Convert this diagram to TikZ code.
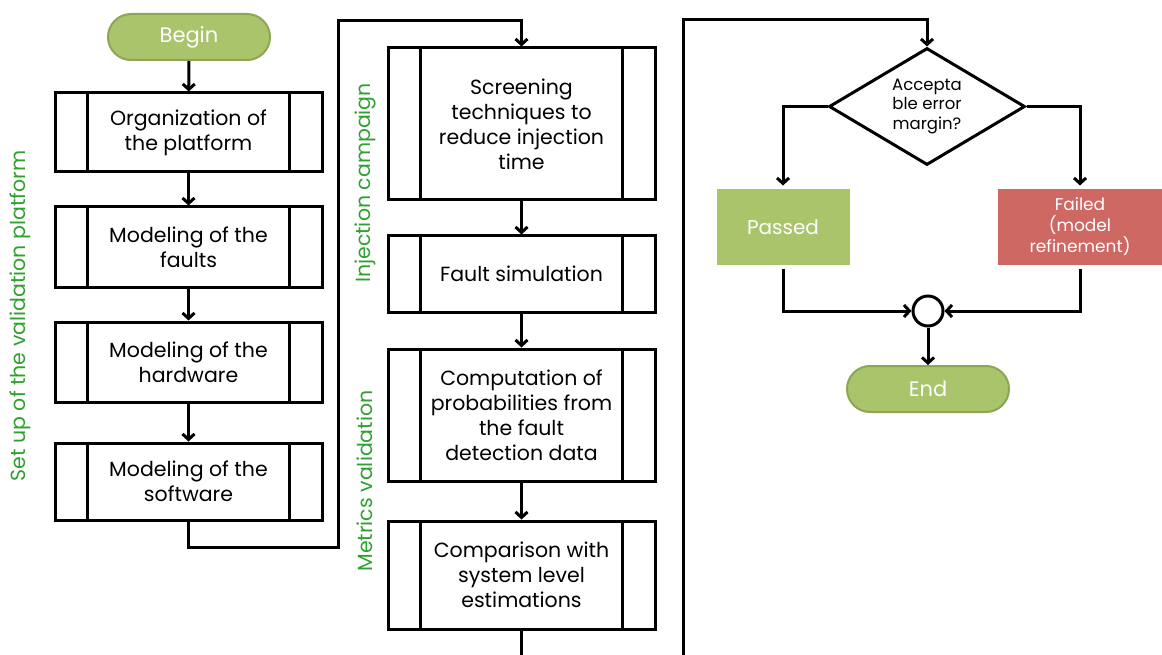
\documentclass[tikz,border=0pt]{standalone}
\usepackage{fontspec}
\setmainfont{Poppins}
\usetikzlibrary{arrows.meta,shapes.geometric,shadows}
\definecolor{termgreen}{HTML}{AAC46C}
\definecolor{termedge}{HTML}{8CA656}
\definecolor{labgreen}{HTML}{30A030}
\definecolor{failred}{HTML}{CE6862}
\tikzset{
  procbox/.style={draw=black, line width=3pt, rectangle, minimum width=267pt, align=center, inner sep=0pt, font=\fontsize{20.5}{25}\selectfont},
  termbox/.style={draw=termedge, fill=termgreen, line width=2pt, rectangle, rounded corners=23pt, minimum width=162pt, minimum height=46pt, text=white, font=\fontsize{21}{24}\selectfont},
  resbox/.style={draw=white, line width=4pt, minimum height=79pt, text=white, align=center, drop shadow={opacity=0.45, shadow xshift=1.5pt, shadow yshift=-2.5pt}},
  arr/.style={line width=3pt, -{Straight Barb[length=5.5pt,width=12pt,line width=3pt]}},
  lin/.style={line width=3pt},
  sidelab/.style={text=labgreen, rotate=90, font=\fontsize{20.5}{24}\selectfont}
}
\begin{document}
\begin{tikzpicture}[x=1pt,y=-1pt]
\useasboundingbox (0,0) rectangle (1162,655);
% terminal nodes
\node[termbox] (begin) at (189,37) {Begin};
\node[termbox] (end) at (928,389) {End};
% column 1
\node[procbox, minimum height=79pt] (a1) at (188.5,132.5) {Organization of\\the platform};
\node[procbox, minimum height=80pt] (a2) at (188.5,247) {Modeling of the\\faults};
\node[procbox, minimum height=80pt] (a3) at (188.5,362) {Modeling of the\\hardware};
\node[procbox, minimum height=77pt] (a4) at (188.5,481.5) {Modeling of the\\software};
% column 2
\node[procbox, minimum height=152pt] (b1) at (521.5,124) {Screening\\techniques to\\reduce injection\\time};
\node[procbox, minimum height=76pt] (b2) at (521.5,274) {Fault simulation};
\node[procbox, minimum height=132pt] (b3) at (521.5,415) {Computation of\\probabilities from\\the fault\\detection data};
\node[procbox, minimum height=108pt] (b4) at (521.5,575) {Comparison with\\system level\\estimations};
% inner lines of process boxes
\foreach \n in {a1,a2,a3,a4,b1,b2,b3,b4}{
  \draw[line width=3pt] ([xshift=34pt]\n.north west) -- ([xshift=34pt]\n.south west);
  \draw[line width=3pt] ([xshift=-34pt]\n.north east) -- ([xshift=-34pt]\n.south east);
}
% side labels
\node[sidelab] (l1) at (20,316) {Set up of the validation platform};
\node[sidelab] (l2) at (365,183) {Injection campaign};
\node[sidelab] (l3) at (365,481) {Metrics validation};
% decision
\node[diamond, draw=black, line width=3pt, minimum width=196pt, minimum height=117pt, inner sep=0pt] (dec) at (927,106.5) {};
\node[align=center, inner sep=0pt, font=\fontsize{16.5}{19.5}\selectfont] (dectxt) at (927,106.5) {Accepta\\ble error\\margin?};
% results
\node[resbox, fill=termgreen, minimum width=137pt, font=\fontsize{20}{24}\selectfont] (pass) at (783,227) {Passed};
\node[resbox, fill=failred, minimum width=168pt, font=\fontsize{17}{21}\selectfont] (fail) at (1080,227) {Failed\\(model\\refinement)};
% merge circle
\node[circle, draw=black, fill=white, line width=3pt, minimum size=30pt, inner sep=0pt] (merge) at (928,311) {};
% coordinates
\coordinate (k1) at (338,547);
\coordinate (k2) at (338,21);
\coordinate (e1) at (521.5,655);
\coordinate (r1) at (683,655);
\coordinate (r2) at (683,20);
% connectors
\draw[arr] (begin) -- (a1);
\draw[arr] (a1) -- (a2);
\draw[arr] (a2) -- (a3);
\draw[arr] (a3) -- (a4);
\draw[arr] (a4.south) |- (k1) -- (k2) -| (b1.north);
\draw[arr] (b1) -- (b2);
\draw[arr] (b2) -- (b3);
\draw[arr] (b3) -- (b4);
\draw[lin] (b4.south) -- (e1);
\draw[arr] (r1) -- (r2) -| (dec.north);
\draw[arr] (dec.west) -| (pass.north);
\draw[arr] (dec.east) -| (fail.north);
\draw[arr] (pass.south) |- (merge.west);
\draw[arr] (fail.south) |- (merge.east);
\draw[arr] (merge) -- (end);
\end{tikzpicture}
\end{document}
